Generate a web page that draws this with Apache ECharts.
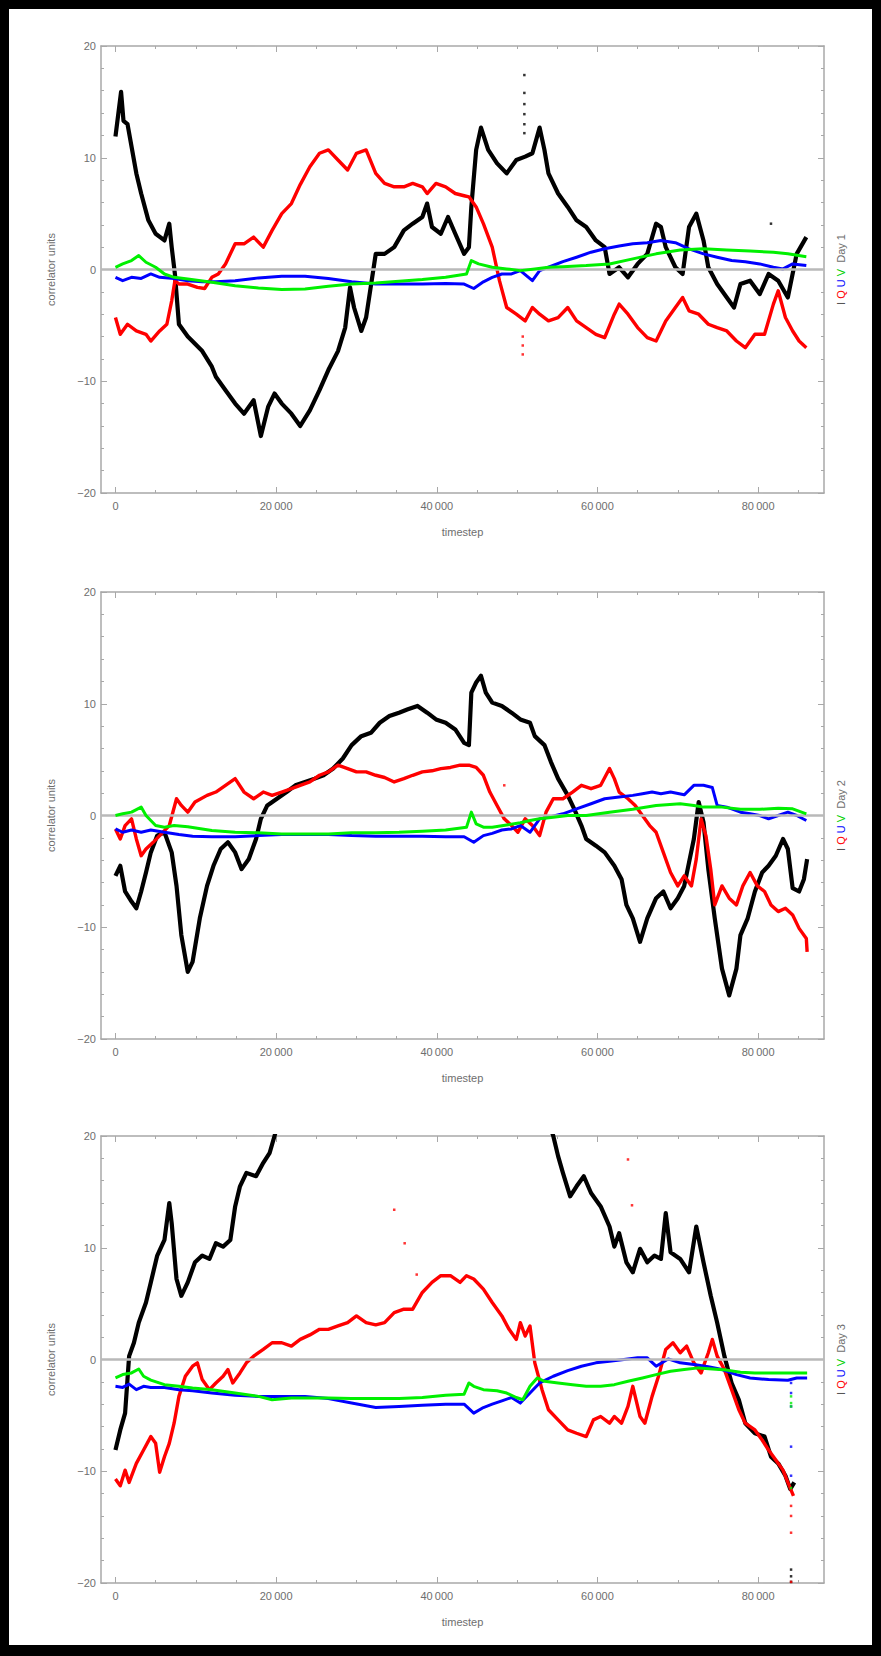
<!DOCTYPE html>
<html><head><meta charset="utf-8">
<script src="https://cdn.jsdelivr.net/npm/echarts@6/dist/echarts.min.js"></script>
<style>
html,body{margin:0;padding:0;background:#000;width:881px;height:1656px;overflow:hidden}
#paper{position:absolute;left:9px;top:9px;width:863px;height:1636px;background:#fff}
#chart{position:absolute;left:0;top:0;width:881px;height:1656px}
</style></head><body><div id="paper"></div><div id="chart"></div>
<script>
// ---------- tick values ----------
const xMajor = [0, 20000, 40000, 60000, 80000];
const xMinor = [5000,10000,15000,25000,30000,35000,45000,50000,55000,65000,70000,75000,85000];
const yTicks = [-20, -10, 0, 10, 20];
const dayNames = ['Day 1', 'Day 2', 'Day 3'];
const stokes = ['I', 'Q', 'U', 'V'];

// ---------- Day 1 ----------
const day1I = [[0,11.9],[700,15.9],[1000,13.3],[1500,13.0],[2600,8.6],[3200,6.8],[4100,4.4],[5000,3.2],[6100,2.6],[6700,4.1],[7000,2.0],[7400,-0.4],[7900,-4.9],[9000,-6.0],[10800,-7.3],[12000,-8.7],[12500,-9.6],[13700,-10.8],[14900,-12.0],[16000,-12.9],[17200,-11.7],[18100,-14.9],[19000,-12.3],[19800,-11.1],[20700,-12.0],[21900,-12.9],[23000,-14.0],[24200,-12.6],[25400,-10.8],[26500,-9.0],[27700,-7.3],[28600,-5.2],[29200,-1.6],[29700,-3.4],[30600,-5.5],[31200,-4.3],[32400,1.4],[33500,1.4],[34700,2.0],[35900,3.5],[37000,4.1],[38200,4.7],[38800,5.9],[39400,3.8],[40500,3.2],[41400,4.7],[42300,3.2],[43400,1.4],[44000,2.0],[44300,5.6],[44900,10.7],[45500,12.7],[46400,10.7],[47500,9.5],[48700,8.6],[49900,9.8],[51000,10.1],[51900,10.4],[52800,12.7],[53400,10.7],[53900,8.6],[55100,6.8],[56300,5.6],[57400,4.4],[58600,3.8],[59800,2.6],[60900,2.0],[61500,-0.4],[62700,0.2],[63800,-0.7],[65000,0.5],[66200,1.4],[67300,4.1],[67900,3.8],[68500,2.0],[69700,0.2],[70600,-0.4],[71400,3.8],[72300,5.0],[73200,2.6],[73800,0.2],[74900,-1.3],[76100,-2.5],[77000,-3.4],[77800,-1.3],[79000,-1.0],[80200,-2.2],[81300,-0.4],[82500,-1.0],[83700,-2.5],[84800,1.4],[86000,2.9]];
const day1Q = [[0,-4.3],[600,-5.8],[1500,-4.9],[2600,-5.5],[3800,-5.8],[4400,-6.4],[5500,-5.5],[6400,-4.9],[7000,-2.8],[7400,-1.0],[7900,-1.3],[9000,-1.3],[10200,-1.6],[11100,-1.7],[12000,-0.7],[12800,-0.4],[13700,0.5],[14900,2.3],[16000,2.3],[17200,2.9],[18400,2.0],[19500,3.5],[20700,5.0],[21900,5.9],[23000,7.6],[24200,9.2],[25400,10.4],[26500,10.7],[27700,9.8],[28900,8.9],[30000,10.4],[31200,10.7],[32400,8.6],[33500,7.7],[34700,7.4],[35900,7.4],[37000,7.7],[38200,7.4],[38800,6.8],[39900,7.7],[41100,7.4],[42300,6.8],[43400,6.6],[44000,6.5],[44900,5.6],[45800,4.1],[46900,2.0],[47800,-1.0],[48700,-3.4],[49900,-4.0],[51000,-4.6],[51900,-3.4],[52800,-4.0],[53900,-4.6],[55100,-4.3],[56300,-3.4],[57400,-4.6],[58600,-5.2],[59800,-5.8],[60900,-6.1],[62100,-4.0],[62700,-3.1],[63800,-4.0],[65000,-5.2],[66200,-6.1],[67300,-6.4],[68500,-4.6],[69700,-3.4],[70600,-2.5],[71400,-3.7],[72600,-4.0],[73800,-4.9],[74900,-5.2],[76100,-5.5],[77300,-6.4],[78400,-7.0],[79600,-5.8],[80800,-5.8],[81900,-3.1],[82500,-1.9],[83400,-4.3],[84300,-5.5],[85100,-6.4],[86000,-7.0]];
const day1U = [[0,-0.7],[900,-1.0],[2000,-0.7],[3200,-0.8],[4400,-0.4],[5500,-0.7],[7300,-0.8],[9000,-1.0],[10800,-1.1],[12500,-1.1],[14900,-1.0],[17800,-0.75],[20700,-0.6],[23600,-0.6],[26500,-0.8],[29400,-1.1],[32400,-1.3],[35300,-1.3],[38200,-1.3],[41100,-1.25],[43400,-1.3],[44600,-1.7],[45800,-1.1],[46900,-0.7],[48100,-0.4],[49300,-0.4],[50400,-0.1],[51900,-1.0],[52800,-0.1],[53900,0.2],[55700,0.7],[57400,1.1],[59200,1.55],[60900,1.85],[62700,2.1],[64400,2.3],[66200,2.4],[67900,2.6],[69700,2.4],[71400,1.85],[73200,1.4],[74900,1.1],[76700,0.8],[78400,0.7],[80200,0.5],[81900,0.2],[83100,0.05],[84300,0.5],[86000,0.35]];
const day1V = [[0,0.2],[900,0.5],[2000,0.8],[2900,1.25],[3800,0.65],[5000,0.2],[6100,-0.4],[7300,-0.7],[9000,-0.85],[12000,-1.15],[14900,-1.45],[17800,-1.65],[20700,-1.8],[23600,-1.75],[26500,-1.5],[29400,-1.3],[32400,-1.2],[35300,-1.05],[38200,-0.9],[41100,-0.7],[43700,-0.4],[44300,0.8],[45200,0.5],[46900,0.2],[48700,0.05],[50400,-0.1],[52200,0.05],[53900,0.2],[55700,0.25],[58600,0.35],[61500,0.5],[64400,0.95],[67300,1.4],[70300,1.75],[73200,1.85],[76100,1.75],[79000,1.65],[81900,1.55],[83700,1.4],[86000,1.15]];
const day1IDots = [[50900,17.4],[50900,15.8],[50900,14.8],[50900,13.9],[50900,13.0],[50900,12.2],[81600,4.1]];
const day1QDots = [[50700,-6.0],[50700,-6.8],[50700,-7.6]];
const day1UDots = [];
const day1VDots = [];

// ---------- Day 2 ----------
const day2I = [[0,-5.4],[600,-4.5],[1200,-6.8],[2000,-7.7],[2600,-8.3],[3200,-6.8],[3800,-5.1],[4400,-3.3],[5200,-1.8],[6100,-1.5],[7000,-3.3],[7600,-6.3],[8200,-10.7],[9000,-14.0],[9600,-13.1],[10500,-9.2],[11400,-6.3],[12200,-4.5],[13100,-3.0],[14000,-2.4],[14900,-3.3],[15700,-4.8],[16600,-3.9],[17500,-2.1],[18100,-0.3],[18900,0.9],[20100,1.5],[21300,2.1],[22400,2.7],[23600,3.0],[24800,3.3],[25900,3.6],[27100,4.2],[28300,5.1],[29400,6.3],[30600,7.1],[31800,7.4],[32900,8.3],[34100,8.9],[35300,9.2],[36400,9.5],[37600,9.8],[38800,9.2],[39900,8.6],[41100,8.3],[42300,7.7],[43400,6.5],[44000,6.3],[44300,11.0],[44900,11.9],[45500,12.5],[46100,11.0],[46900,10.1],[48100,9.8],[49300,9.2],[50400,8.6],[51600,8.3],[52200,7.1],[53400,6.3],[54200,4.8],[55100,3.3],[56300,1.8],[57100,0.6],[58000,-0.9],[58600,-2.1],[59800,-2.7],[60900,-3.3],[62100,-4.5],[63000,-5.7],[63600,-8.0],[64400,-9.2],[65300,-11.3],[66200,-9.2],[67300,-7.4],[68200,-6.8],[69100,-8.3],[70000,-7.4],[70800,-6.3],[71400,-4.2],[72000,-2.1],[72600,1.2],[73200,-0.6],[73800,-4.8],[74600,-9.2],[75500,-13.7],[76400,-16.1],[77300,-13.7],[77800,-10.7],[78700,-9.2],[79600,-6.8],[80500,-5.1],[81300,-4.5],[82200,-3.6],[83100,-2.1],[83700,-3.0],[84300,-6.5],[85100,-6.8],[85700,-5.7],[86100,-3.9]];
const day2Q = [[0,-1.2],[600,-2.1],[1200,-0.9],[2000,-0.3],[2600,-2.1],[3200,-3.6],[3800,-3.0],[4700,-2.4],[5500,-1.8],[6700,-0.9],[7600,1.5],[8200,0.9],[9000,0.3],[9900,1.2],[11400,1.8],[12500,2.1],[13700,2.7],[14900,3.3],[16000,2.1],[17200,1.5],[18400,2.1],[19500,1.8],[20700,2.1],[21900,2.4],[23000,2.7],[24200,3.0],[25400,3.6],[26500,3.9],[27700,4.5],[28900,4.2],[30000,3.9],[31200,3.9],[32400,3.6],[33500,3.4],[34700,3.0],[35900,3.3],[37000,3.6],[38200,3.9],[39400,4.0],[40500,4.2],[41700,4.3],[42900,4.5],[44000,4.5],[44900,4.3],[45800,3.6],[46600,2.1],[47500,0.9],[48400,-0.3],[49300,-0.9],[50100,-1.5],[51000,-0.3],[51900,-0.9],[52800,-1.8],[53600,0.3],[54500,1.5],[55700,1.5],[56900,2.1],[58000,2.7],[59200,2.4],[60400,2.7],[61500,4.2],[62100,3.3],[62700,2.1],[63800,1.5],[64700,0.9],[65600,0.0],[66500,-0.9],[67300,-1.5],[68200,-3.3],[69100,-5.1],[70000,-6.3],[70800,-5.4],[71700,-6.3],[72300,-3.9],[72900,-0.3],[73500,-1.8],[74100,-4.8],[74600,-8.0],[75500,-6.3],[76400,-7.4],[77300,-8.0],[78100,-6.3],[79000,-5.1],[79900,-6.3],[80800,-6.8],[81600,-8.0],[82500,-8.6],[83400,-8.3],[84300,-8.9],[85100,-10.1],[86000,-11.0],[86100,-12.2]];
const day2U = [[0,-1.2],[900,-1.5],[2000,-1.3],[3200,-1.5],[4400,-1.3],[6100,-1.5],[7900,-1.7],[9600,-1.85],[12000,-1.9],[14900,-1.9],[17800,-1.8],[20700,-1.7],[23600,-1.7],[26500,-1.7],[29400,-1.8],[32400,-1.85],[35300,-1.85],[38200,-1.85],[41100,-1.9],[43400,-1.9],[44600,-2.4],[45800,-1.8],[46900,-1.6],[48100,-1.3],[49300,-1.2],[50400,-0.9],[51600,-1.5],[52800,-0.3],[53900,-0.15],[55700,0.15],[57400,0.6],[59200,1.05],[60900,1.5],[62700,1.65],[64400,1.8],[65600,1.95],[66800,2.1],[67900,1.95],[69100,2.1],[70800,1.85],[72000,2.7],[73200,2.7],[74300,2.5],[74900,0.9],[76100,0.75],[77800,0.3],[79000,0.15],[80200,0.0],[81300,-0.3],[82500,0.0],[83700,0.3],[84800,0.0],[86000,-0.45]];
const day2V = [[0,0.0],[900,0.15],[2000,0.3],[3200,0.75],[3800,0.0],[5000,-0.9],[6100,-1.05],[7300,-0.9],[9000,-1.0],[12000,-1.35],[14900,-1.5],[17800,-1.55],[20700,-1.65],[23600,-1.65],[26500,-1.65],[29400,-1.55],[32400,-1.55],[35300,-1.5],[38200,-1.4],[41100,-1.3],[43700,-1.05],[44300,0.3],[44900,-0.75],[45800,-1.05],[46900,-1.05],[48700,-0.85],[50400,-0.65],[51600,-0.45],[52800,-0.3],[54500,-0.15],[56300,0.0],[58600,0.0],[61500,0.3],[64400,0.55],[67300,0.9],[70300,1.05],[72000,0.9],[73200,0.75],[75500,0.75],[77800,0.55],[80200,0.55],[82500,0.65],[84300,0.6],[86000,0.15]];
const day2IDots = [];
const day2QDots = [[48400,2.7]];
const day2UDots = [];
const day2VDots = [];

// ---------- Day 3 ----------
const day3I = [[0,-8.1],[600,-6.3],[1200,-4.8],[1700,0.3],[2300,1.5],[2900,3.3],[3800,5.1],[4400,6.9],[5200,9.3],[6100,10.7],[6700,14.0],[7000,12.2],[7600,7.2],[8200,5.7],[9000,6.9],[9900,8.7],[10800,9.3],[11700,9.0],[12500,10.4],[13400,10.1],[14300,10.7],[14900,13.7],[15500,15.5],[16300,16.7],[17500,16.4],[18400,17.6],[19200,18.5],[19800,20.0],[20400,21.5],[36000,26.0],[53800,21.5],[54500,20.0],[55100,18.2],[55700,16.7],[56600,14.6],[57400,15.5],[58300,16.4],[59200,14.9],[60400,13.7],[61500,11.9],[62100,10.1],[62700,11.3],[63600,8.7],[64400,7.8],[65300,9.9],[66200,8.7],[67100,9.3],[67900,9.0],[68500,13.1],[69100,9.6],[70300,9.0],[71400,7.8],[72300,11.9],[73200,8.7],[74100,5.7],[74900,3.3],[75800,0.3],[76700,-2.1],[77600,-3.6],[78400,-5.7],[79600,-6.6],[80800,-6.9],[81600,-8.7],[82500,-9.3],[83400,-10.4],[84000,-11.6],[84500,-11.0]];
const day3Q = [[0,-10.7],[600,-11.3],[1200,-9.9],[1700,-11.0],[2600,-9.3],[3500,-8.1],[4400,-6.9],[5000,-7.5],[5500,-10.1],[6100,-8.7],[6700,-7.5],[7300,-5.7],[7900,-3.3],[8700,-1.5],[9600,-0.6],[10200,-0.3],[10800,-1.8],[11700,-2.7],[12500,-2.1],[13400,-1.5],[14000,-0.9],[14600,-2.1],[15500,-1.2],[16300,-0.3],[17200,0.3],[18400,0.9],[19500,1.5],[20700,1.5],[21900,1.2],[23000,1.8],[24200,2.2],[25400,2.7],[26500,2.7],[27700,3.0],[28900,3.3],[30000,3.9],[31200,3.3],[32400,3.1],[33500,3.3],[34700,4.2],[35900,4.5],[37000,4.5],[38200,6.0],[39400,6.9],[40500,7.5],[41700,7.5],[42900,6.9],[43700,7.5],[44600,7.2],[45800,6.3],[46900,5.1],[48100,3.9],[49000,2.7],[49900,1.8],[50400,3.3],[51000,2.1],[51600,3.0],[52200,-0.3],[53100,-2.7],[53900,-4.5],[55100,-5.4],[56300,-6.3],[57400,-6.6],[58600,-6.9],[59500,-5.4],[60400,-5.1],[61500,-5.7],[62100,-5.1],[63000,-5.7],[63800,-4.2],[64400,-2.4],[65300,-5.1],[65900,-5.7],[66800,-3.3],[67600,-1.5],[68500,0.9],[69400,1.5],[70300,0.6],[71100,1.2],[72000,-0.3],[72900,-1.2],[73800,0.6],[74300,1.8],[74900,0.3],[75800,-0.9],[76700,-2.7],[77600,-4.5],[78400,-5.7],[79600,-6.3],[80500,-7.2],[81300,-8.1],[82200,-9.0],[83100,-9.9],[83700,-11.0],[84400,-12.2]];
const day3U = [[0,-2.4],[900,-2.5],[1700,-2.2],[2600,-2.7],[3500,-2.4],[4400,-2.5],[6100,-2.5],[7900,-2.7],[9600,-2.8],[12000,-3.0],[14900,-3.2],[17800,-3.3],[20700,-3.3],[23600,-3.3],[26500,-3.5],[29400,-3.9],[32400,-4.3],[35300,-4.2],[38200,-4.1],[41100,-4.0],[43400,-4.0],[44600,-4.8],[45800,-4.3],[46900,-4.0],[48100,-3.7],[49300,-3.4],[50400,-3.9],[51600,-3.0],[52800,-2.1],[54500,-1.5],[56300,-1.0],[58000,-0.6],[59800,-0.3],[61500,-0.15],[63300,0.0],[65000,0.15],[66200,0.15],[67300,-0.6],[68800,0.05],[70300,-0.3],[72000,-0.45],[73800,-0.65],[75500,-0.9],[77300,-1.35],[79000,-1.65],[81300,-1.8],[83700,-1.85],[84800,-1.65],[86100,-1.65]];
const day3V = [[0,-1.65],[900,-1.35],[2000,-1.2],[2900,-0.85],[3500,-1.5],[4400,-1.85],[6100,-2.25],[7900,-2.4],[9600,-2.55],[12000,-2.7],[14900,-3.0],[17800,-3.3],[19500,-3.6],[21900,-3.45],[24200,-3.45],[26500,-3.45],[29400,-3.5],[32400,-3.5],[35300,-3.5],[38200,-3.4],[41100,-3.2],[43400,-3.1],[44000,-2.1],[44600,-2.4],[45800,-2.7],[47500,-2.8],[48700,-3.0],[49900,-3.4],[50700,-3.6],[51600,-2.4],[52500,-1.65],[53400,-1.95],[55100,-2.1],[56900,-2.25],[58600,-2.4],[60400,-2.4],[62100,-2.25],[63800,-1.95],[65600,-1.65],[67300,-1.35],[69100,-1.05],[70800,-0.9],[72600,-0.75],[74300,-0.85],[76100,-0.95],[77800,-1.15],[79600,-1.2],[81300,-1.2],[83700,-1.2],[86100,-1.2]];
const day3IDots = [[84100,-18.8],[84100,-19.4],[84100,-19.9]];
const day3QDots = [[34700,13.4],[36000,10.4],[37500,7.6],[63800,17.9],[64300,13.8],[84100,-13.1],[84100,-14.0],[84100,-15.5],[84100,-19.9]];
const day3UDots = [[84100,-2.1],[84100,-3.0],[84100,-4.2],[84100,-7.8],[84100,-10.4]];
const day3VDots = [[84100,-3.3],[84100,-3.9],[84100,-4.2],[84100,-11.5]];

// ---------- build ----------
const days = [
  {lines:[day1I,day1Q,day1U,day1V], dots:[day1IDots,day1QDots,day1UDots,day1VDots]},
  {lines:[day2I,day2Q,day2U,day2V], dots:[day2IDots,day2QDots,day2UDots,day2VDots]},
  {lines:[day3I,day3Q,day3U,day3V], dots:[day3IDots,day3QDots,day3UDots,day3VDots]}
];
const colors = ['#000000','#ff0000','#0000ff','#00f000'];
const widths = [4.2, 3.4, 3.0, 3.0];
const tops = [46, 592, 1136];
const GL = 101, GW = 723, GH = 447;
const frame = '#a8a8a8', txt = '#6e6e6e';
const FONT = '"Liberation Sans", Arial, sans-serif';
const XMIN = -1800, XMAX = 88200;

const grid = [], xAxis = [], yAxis = [], series = [], graphic = [];
const xfmt = v => v === 0 ? '0' : (v/1000) + '\u2009000';
const yfmt = v => v < 0 ? '\u2212' + Math.abs(v) : String(v);

tops.forEach((top, g) => {
  grid.push({left: GL, top: top, width: GW, height: GH, show: false});
  const base = {type:'value', gridIndex:g, min:XMIN, max:XMAX, splitLine:{show:false}};
  xAxis.push(Object.assign({}, base, {position:'bottom',
    axisLine:{show:true, onZero:false, lineStyle:{color:frame, width:1.5}},
    axisTick:{show:true, inside:true, length:6, customValues:xMajor, lineStyle:{color:frame, width:1}},
    axisLabel:{show:true, customValues:xMajor, formatter:xfmt, color:txt, fontSize:11, fontFamily:FONT, margin:7},
    name:'timestep', nameLocation:'middle', nameGap:33,
    nameTextStyle:{color:txt, fontSize:11, fontFamily:FONT}}));
  xAxis.push(Object.assign({}, base, {position:'bottom',
    axisLine:{show:false, onZero:false},
    axisTick:{show:true, inside:true, length:3, customValues:xMinor, lineStyle:{color:frame, width:1}},
    axisLabel:{show:false}}));
  xAxis.push(Object.assign({}, base, {position:'top',
    axisLine:{show:true, onZero:false, lineStyle:{color:frame, width:1.5}},
    axisTick:{show:true, inside:true, length:6, customValues:xMajor, lineStyle:{color:frame, width:1}},
    axisLabel:{show:false}}));
  xAxis.push(Object.assign({}, base, {position:'top',
    axisLine:{show:false, onZero:false},
    axisTick:{show:true, inside:true, length:3, customValues:xMinor, lineStyle:{color:frame, width:1}},
    axisLabel:{show:false}}));
  const ybase = {type:'value', gridIndex:g, min:-20, max:20, interval:10, splitLine:{show:false},
    axisLine:{show:true, onZero:false, lineStyle:{color:frame, width:1.5}},
    axisTick:{show:true, inside:true, length:6, lineStyle:{color:frame, width:1}},
    minorTick:{show:true, splitNumber:5, length:3, lineStyle:{color:frame, width:1}}};
  yAxis.push(Object.assign({}, ybase, {position:'left',
    axisLabel:{show:true, formatter:yfmt, color:txt, fontSize:11, fontFamily:FONT, margin:5},
    name:'correlator units', nameLocation:'middle', nameGap:45, nameRotate:90,
    nameTextStyle:{color:txt, fontSize:11, fontFamily:FONT}}));
  yAxis.push(Object.assign({}, ybase, {position:'right', axisLabel:{show:false}}));

  const xi = g*4, yi = g*2;
  series.push({type:'line', xAxisIndex:xi, yAxisIndex:yi, data:[], z:1, silent:true,
    markLine:{silent:true, symbol:['none','none'], label:{show:false}, animation:false,
      lineStyle:{color:'#b9b9b9', width:2.5, type:'solid'}, data:[{yAxis:0}]}});
  days[g].lines.forEach((d, k) => {
    series.push({type:'line', name:stokes[k], xAxisIndex:xi, yAxisIndex:yi, data:d, z:2+k,
      showSymbol:false, symbol:'none', smooth:false, clip:true,
      lineStyle:{color:colors[k], width:widths[k], join:'round'}});
  });
  days[g].dots.forEach((d, k) => {
    if (!d.length) return;
    series.push({type:'scatter', xAxisIndex:xi, yAxisIndex:yi, data:d, z:7, symbol:'rect',
      symbolSize:2.5, itemStyle:{color:colors[k]}, clip:true});
  });
  graphic.push({type:'text', x:841, y: top + GH/2, rotation: Math.PI/2,
    style:{text:'{i|I} {q|Q} {u|U} {v|V}  {d|' + dayNames[g] + '}', align:'center', verticalAlign:'middle',
      font:'11px ' + FONT, fill:txt,
      rich:{i:{fill:'#555', fontSize:11, fontFamily:FONT},
            q:{fill:'#ff0000', fontSize:11, fontFamily:FONT},
            u:{fill:'#0000ff', fontSize:11, fontFamily:FONT},
            v:{fill:'#00d000', fontSize:11, fontFamily:FONT},
            d:{fill:txt, fontSize:11, fontFamily:FONT}}}});
});

const chart = echarts.init(document.getElementById('chart'), null, {renderer:'svg', width:881, height:1656});
chart.setOption({backgroundColor:'transparent', animation:false, grid, xAxis, yAxis, series, graphic});
</script></body></html>
